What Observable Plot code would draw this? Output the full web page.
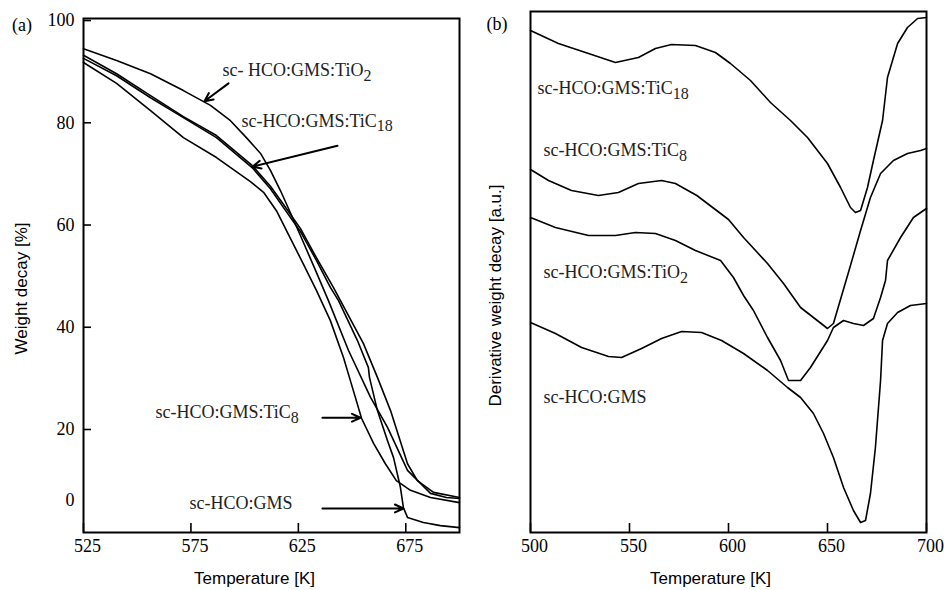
<!DOCTYPE html>
<html><head><meta charset="utf-8">
<script src="https://cdn.jsdelivr.net/npm/d3@7"></script>
<script src="https://cdn.jsdelivr.net/npm/@observablehq/plot@0.6"></script>
<style>
body{margin:0;background:#fff;}
#wrap{position:relative;width:944px;height:590px;overflow:hidden;background:#fff;}
#pa{position:absolute;left:0;top:0;}
#pb{position:absolute;left:470px;top:0;}
</style></head><body>
<div id="wrap"><div id="pa"></div><div id="pb"></div></div>
<script>
// ---------- Panel (a): TGA weight decay [%] vs temperature [K] ----------
const tgaTiO2 = [[525,94.5],[540.4,92.2],[556.2,89.6],[571.5,86.3],[584.1,83.4],[593.4,80.4],[600.8,77.1],[607.4,74.0],[612.0,70.7],[616.7,66.7],[621.3,62.4],[626.0,57.9],[632.0,52.1],[639.0,45.2],[648.3,35.5],[658.6,26.3],[666.5,20.4],[675.8,12.0],[686.5,7.5],[693.9,6.7],[700,6.5]];
const tgaTiC18 = [[525,93.2],[540.4,89.6],[556.2,85.3],[571.5,81.2],[586.9,77.5],[603.6,71.6],[612,67.6],[618.1,64.0],[626,59.3],[633.4,53.6],[641.3,47.8],[655.3,36.8],[661.8,30.2],[667.9,23.7],[675.8,13.3],[680.4,10.0],[687.9,7.7],[700,6.7]];
const tgaTiC8 = [[525,91.8],[540.4,87.7],[556.2,82.4],[571.5,77.1],[586.9,73.2],[602.7,68.5],[608.8,66.4],[614.8,62.8],[621.3,57.4],[627.4,52.3],[633.4,47.2],[639.9,41.3],[646,34.1],[650.6,27.6],[654.4,22.2],[660,17.3],[665.5,13.3],[670.6,10.0],[677.2,8.1],[686.5,6.7],[700,5.7]];
const tgaGMS = [[525,92.6],[540.4,89.2],[556.2,84.9],[571.5,81.0],[586.9,77.1],[603.6,71.2],[612,67.1],[618.1,63.4],[626,58.7],[633.4,53.1],[639.9,47.8],[643.7,45.2],[652.5,37.4],[657.6,32.1],[658.1,30.2],[661.8,23.7],[666.5,17.8],[669.3,14.5],[672.5,8.7],[673.9,4.7],[675.8,2.8],[683.2,1.8],[691.1,1.2],[700,0.8]];

const xTicksA = [525, 575, 625, 675];
const yTickMarksA = [20, 40, 60, 80, 100];
const yTickPosA = [6.1, 20, 40, 60, 80, 100];
const yTickLabelsA = ["0", "20", "40", "60", "80", "100"];

const annoTextA = ["sc- HCO:GMS:TiO", "sc-HCO:GMS:TiC", "sc-HCO:GMS:TiC", "sc-HCO:GMS"];
const annoSubA = ["2", "18", "8", ""];
const annoXA = [589.7, 598.5, 558.5, 574.3];
const annoYA = [90.2, 80.4, 23.3, 5.5];
const arrowX1A = [592.5, 643.2, 636.2, 636.2];
const arrowY1A = [87.7, 75.5, 22.3, 4.55];
const arrowX2A = [581.3, 603.6, 653.9, 673.9];
const arrowY2A = [84.2, 71.4, 22.3, 4.55];

// ---------- Panel (b): derivative weight decay [a.u.] ----------
const dtgTiC18 = [[500,502],[514.1,489],[529.3,479],[542.9,470],[554.5,475],[563.1,484],[571.2,488],[583.3,487],[593.4,480],[601,469],[611.1,452],[621.2,430],[631.3,412],[639.9,395],[650,369],[656.6,345],[661.6,325],[664.1,320],[666.7,322],[670.2,345],[673.2,372],[677.8,412],[680.3,455],[685.4,489],[690.4,505],[695.5,514],[700,515]];
const dtgTiC8 = [[500,363],[509.1,352],[520.7,342],[534.3,337],[544.4,340],[554.5,349],[566.2,352],[573.2,349],[584,337],[594,322],[600,313],[607.6,295],[619.7,269],[627.8,249],[636.4,225],[642.9,215],[650,204],[653,209],[657.6,240],[661.6,267],[666.7,302],[671.7,335],[676.8,359],[683.3,372],[690.4,379],[697,382],[700,384]];
const dtgTiO2 = [[500,315],[512.6,305],[529.3,297],[542.9,297],[553,300],[563.1,299],[573.2,292],[583.3,282],[596,272],[602.5,255],[607.6,237],[612.6,222],[619.7,195],[626.3,172],[630.3,152],[636.4,152],[641.4,165],[650,192],[653,205],[658.1,212],[663.1,209],[668.2,207],[673.2,214],[676.8,235],[679.3,252],[680.3,272],[686.9,295],[693.4,315],[700,324]];
const dtgGMS = [[500,210],[512.6,199],[525.8,185],[539.4,176],[546,175],[556.1,184],[566.2,194],[576.3,201],[586.4,200],[596.5,192],[607.6,179],[619.7,162],[629.8,145],[636.4,135],[642.9,119],[648,99],[653,75],[658.1,45],[663.1,22],[666.7,10],[669.2,12],[671.7,39],[674.2,85],[676.8,152],[677.8,192],[680.3,209],[685.4,220],[691.9,227],[700,229]];

const xTicksB = [500, 550, 600, 650, 700];
const annoTextB = ["sc-HCO:GMS:TiC", "sc-HCO:GMS:TiC", "sc-HCO:GMS:TiO", "sc-HCO:GMS"];
const annoSubB = ["18", "8", "2", ""];
const annoXB = [503.5, 506.6, 506.6, 506.6];
const annoYB = [444, 382, 260, 135];

// ---------- helpers ----------
const SERIF = "Liberation Serif, Times New Roman, serif";
const SANS = "Liberation Sans, Arial, sans-serif";
function toRows(name, arr) { return arr.map(([t, v]) => ({series: name, t, v})); }
function addSubs(svg, texts, subs) {
  const nodes = Array.from(svg.querySelectorAll("text")).filter(n => texts.includes(n.textContent));
  nodes.forEach((n, i) => {
    const s = subs[i];
    if (!s) return;
    d3.select(n).append("tspan").attr("dy", "0.3em").attr("font-size", "16px").text(s);
  });
}

const rowsA = [].concat(toRows("TiO2", tgaTiO2), toRows("TiC18", tgaTiC18), toRows("TiC8", tgaTiC8), toRows("GMS", tgaGMS));
const annoA = annoTextA.map((t, i) => ({t, x: annoXA[i], y: annoYA[i]}));
const arrowsA = arrowX1A.map((x1, i) => ({x1, y1: arrowY1A[i], x2: arrowX2A[i], y2: arrowY2A[i]}));

const plotA = Plot.plot({
  width: 470, height: 590,
  marginLeft: 83, marginRight: 11, marginTop: 18, marginBottom: 58,
  style: {fontFamily: SERIF, fontSize: "18px", background: "white", color: "black", overflow: "visible"},
  x: {domain: [525, 700]},
  y: {domain: [-0.15, 100.4]},
  marks: [
    Plot.axisY(yTickMarksA, {tickSize: -8, tickFormat: () => "", strokeWidth: 1.6, label: null}),
    Plot.axisY(yTickPosA, {tickSize: 0, tickPadding: 9, tickFormat: d => yTickLabelsA[yTickPosA.indexOf(d)], fontSize: 18, fontFamily: SERIF, label: null}),
    Plot.axisX(xTicksA, {tickSize: -9, tickFormat: () => "", strokeWidth: 1.6, label: null}),
    Plot.axisX(xTicksA, {tickSize: 0, tickPadding: 7, dx: 4, fontSize: 18, fontFamily: SERIF, label: null}),
    Plot.line(rowsA, {x: "t", y: "v", z: "series", stroke: "black", strokeWidth: 1.6}),
    Plot.text(annoA, {x: "x", y: "y", text: "t", textAnchor: "start", fontSize: 18, fontFamily: SERIF, fill: "#222"}),
    Plot.arrow(arrowsA, {x1: "x1", y1: "y1", x2: "x2", y2: "y2", stroke: "black", strokeWidth: 2, headLength: 7, headAngle: 50}),
    Plot.frame({stroke: "black", strokeWidth: 2}),
    Plot.text(["(a)"], {frameAnchor: "top-left", text: d => d, textAnchor: "middle", lineAnchor: "middle", dx: -61.5, dy: 7, fontSize: 18, fontFamily: SERIF}),
    Plot.text(["Weight decay [%]"], {frameAnchor: "left", text: d => d, textAnchor: "middle", lineAnchor: "middle", rotate: -90, dx: -61.5, dy: 13, fontSize: 17, fontFamily: SANS}),
    Plot.text(["Temperature [K]"], {frameAnchor: "bottom", text: d => d, textAnchor: "middle", lineAnchor: "middle", dx: -17, dy: 46, fontSize: 17, fontFamily: SANS})
  ]
});
addSubs(plotA, annoTextA, annoSubA);
document.getElementById("pa").appendChild(plotA);

const rowsB = [].concat(toRows("TiC18", dtgTiC18), toRows("TiC8", dtgTiC8), toRows("TiO2", dtgTiO2), toRows("GMS", dtgGMS));
const annoB = annoTextB.map((t, i) => ({t, x: annoXB[i], y: annoYB[i]}));

const plotB = Plot.plot({
  width: 474, height: 590,
  marginLeft: 60, marginRight: 18, marginTop: 11, marginBottom: 58,
  style: {fontFamily: SERIF, fontSize: "18px", background: "white", color: "black", overflow: "visible"},
  x: {domain: [500, 700]},
  y: {domain: [0, 521], axis: null},
  marks: [
    Plot.axisX(xTicksB, {tickSize: -9, tickFormat: () => "", strokeWidth: 1.6, label: null}),
    Plot.axisX(xTicksB, {tickSize: 0, tickPadding: 7, dx: 4, fontSize: 18, fontFamily: SERIF, label: null}),
    Plot.line(rowsB, {x: "t", y: "v", z: "series", stroke: "black", strokeWidth: 1.6}),
    Plot.text(annoB, {x: "x", y: "y", text: "t", textAnchor: "start", fontSize: 18, fontFamily: SERIF, fill: "#222"}),
    Plot.frame({stroke: "black", strokeWidth: 2}),
    Plot.text(["(b)"], {frameAnchor: "top-left", text: d => d, textAnchor: "middle", lineAnchor: "middle", dx: -33.5, dy: 12.5, fontSize: 18, fontFamily: SERIF}),
    Plot.text(["Derivative weight decay [a.u.]"], {frameAnchor: "left", text: d => d, textAnchor: "middle", lineAnchor: "middle", rotate: -90, dx: -35, dy: 23.5, fontSize: 17, fontFamily: SANS}),
    Plot.text(["Temperature [K]"], {frameAnchor: "bottom", text: d => d, textAnchor: "middle", lineAnchor: "middle", dx: -18, dy: 46, fontSize: 17, fontFamily: SANS})
  ]
});
addSubs(plotB, annoTextB, annoSubB);
document.getElementById("pb").appendChild(plotB);
</script>
</body></html>
